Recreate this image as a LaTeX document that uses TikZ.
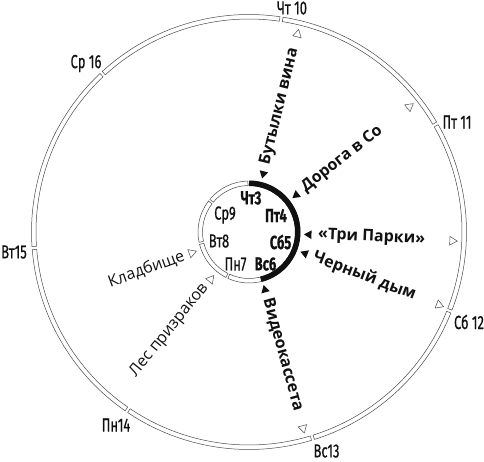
\documentclass[tikz,border=0pt]{standalone}
\usepackage{fontspec}
\setmainfont{Open Sans}
\newfontfamily\dayfont[FakeStretch=0.68,FakeBold=0.6]{Fira Sans}
\usepackage{tikz}
\usetikzlibrary{calc,shapes.geometric}
\definecolor{ink}{HTML}{111111}
\definecolor{ringgray}{HTML}{4A4A4A}
\tikzset{
  ringseg/.style={draw=ringgray, line width=0.5pt},
  weekarc/.style={draw=ink, line width=5.5pt},
  daytag/.style={font=\dayfont\fontsize{19}{19}\selectfont, inner sep=0pt, text=ink},
  daytagbold/.style={daytag, font=\dayfont\bfseries\fontsize{19}{19}\selectfont},
  eventbold/.style={font=\bfseries\fontsize{16}{16}\selectfont, inner sep=0pt, text=ink},
  eventplain/.style={font=\fontsize{16}{16}\selectfont, inner sep=0pt, text=ink},
  fillmark/.style={regular polygon, regular polygon sides=3, fill=ink,
    inner sep=0pt, minimum size=10pt},
  openmark/.style={regular polygon, regular polygon sides=3, draw=ringgray, fill=white,
    line width=0.5pt, inner sep=0pt, minimum size=10pt}
}

\begin{document}
\begin{tikzpicture}[x=1pt,y=1pt]
  \useasboundingbox (0,0) rectangle (484,461);
  \coordinate (C) at (249,229);

  % outer ring, days 10-16
  \foreach \k in {0,...,6}{
    \pgfmathsetmacro\a{81.4-\k*360/7-0.4}
    \pgfmathsetmacro\b{81.4-(\k+1)*360/7+0.4}
    \draw[ringseg] ($(C)+(\a:217.5pt)$) arc[start angle=\a, end angle=\b, radius=217.5pt]
      -- ($(C)+(\b:213pt)$) arc[start angle=\b, end angle=\a, radius=213pt] -- cycle;
  }
  % inner ring, days 3-9
  \foreach \k in {0,...,6}{
    \pgfmathsetmacro\a{90-\k*360/7-1.2}
    \pgfmathsetmacro\b{90-(\k+1)*360/7+1.2}
    \draw[ringseg] ($(C)+(\a:51pt)$) arc[start angle=\a, end angle=\b, radius=51pt]
      -- ($(C)+(\b:46.5pt)$) arc[start angle=\b, end angle=\a, radius=46.5pt] -- cycle;
  }
  \draw[weekarc] ($(C)+(90:48.75pt)$) arc[start angle=90, end angle=-76, radius=48.75pt];

  \node[daytag] (t10) at (292,453) {Чт 10};
  \node[daytag] (t11) at (457,339) {Пт 11};
  \node[daytag] (t12) at (469,139) {Сб 12};
  \node[daytag] (t13) at (326.5,10) {Вс13};
  \node[daytag] (t14) at (116,36) {Пн14};
  \node[daytag] (t15) at (14,209) {Вт15};
  \node[daytag] (t16) at (86,397.5) {Ср 16};

  \foreach \dx/\dy/\n/\txt/\st in {2/34/3/Чт3/daytagbold, 27/16.5/4/Пт4/daytagbold,
      31.5/-10/5/Сб5/daytagbold, 16.5/-32/6/Вс6/daytagbold, -13.5/-32/7/Пн7/daytag,
      -30/-9/8/Вт8/daytag, -24/17/9/Ср9/daytag}
    \node[\st] (d\n) at ($(C)+(\dx,\dy)$) {\txt};

  % events
  \foreach \t/\txt [count=\i] in {76.2/Бутылки вина, 38/Дорога в Со, -2.5/{«Три Парки»},
      -21/Черный дым, -74.6/Видеокассета}{
    \node[fillmark, rotate=\t+90] (in\i) at ($(C)+(\t:60pt)$) {};
    \node[openmark, rotate=\t-90] (out\i) at ($(C)+(\t:203.5pt)$) {};
    \node[eventbold, rotate=\t, anchor=west] (ev\i) at ($(C)+(\t:69pt)$) {\txt};
  }
  \foreach \t/\txt [count=\i] in {200/Кладбище, 231/Лес призраков}{
    \node[openmark, rotate=\t+90] (lm\i) at ($(C)+(\t:61pt)$) {};
    \node[eventplain, rotate=\t-180, anchor=east] (lev\i) at ($(C)+(\t:69pt)$) {\txt};
  }
\end{tikzpicture}
\end{document}
